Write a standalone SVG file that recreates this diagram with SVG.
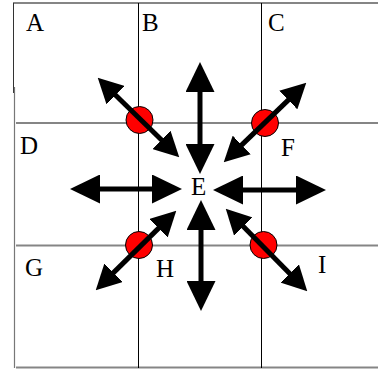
<svg xmlns="http://www.w3.org/2000/svg" width="378" height="369" viewBox="0 0 378 369">
<style>
.h{stroke:#858585;stroke-width:2;fill:none}
.v{stroke:#000;stroke-width:1;fill:none}
.lbl{font-family:"Liberation Serif","Times New Roman",serif;font-size:25px;fill:#000}
.dot{fill:#f00;stroke:#000;stroke-width:1}
.arr{stroke:#000;stroke-width:5;fill:none;marker-start:url(#ah);marker-end:url(#ah)}
.arrd{stroke:#000;stroke-width:5;fill:none;marker-start:url(#ahd);marker-end:url(#ahd)}
</style>
<defs>
<marker id="ah" markerUnits="userSpaceOnUse" viewBox="0 0 30 29" refX="1" refY="14.5" markerWidth="30" markerHeight="29" orient="auto-start-reverse">
<path d="M0,0 L30,14.5 L0,29 Z" fill="#000"/>
</marker>
<marker id="ahd" markerUnits="userSpaceOnUse" viewBox="0 0 25 26" refX="1" refY="13" markerWidth="25" markerHeight="26" orient="auto-start-reverse">
<path d="M0,0 L25,13 L0,26 Z" fill="#000"/>
</marker>
</defs>
<rect width="378" height="369" fill="#fff"/>
<g id="grid">
<line class="h" x1="13" y1="3" x2="378" y2="3"/>
<line class="h" x1="16" y1="123" x2="378" y2="123"/>
<line class="h" x1="16" y1="245.5" x2="378" y2="245.5"/>
<line class="h" x1="16" y1="367.5" x2="378" y2="367.5"/>
<line x1="13.5" y1="3" x2="13.5" y2="93" stroke="#333" stroke-width="1"/>
<line x1="14.5" y1="87" x2="14.5" y2="368" stroke="#777" stroke-width="1.2"/>
<line class="v" x1="138.5" y1="3" x2="138.5" y2="368"/>
<line class="v" x1="261.5" y1="3" x2="261.5" y2="368"/>
</g>
<g id="A"><text class="lbl" x="26" y="31">A</text></g>
<g id="B"><text class="lbl" x="142" y="31">B</text></g>
<g id="C"><text class="lbl" x="268" y="31">C</text></g>
<g id="D"><text class="lbl" x="20" y="154">D</text></g>
<g id="E"><text class="lbl" x="191" y="195">E</text></g>
<g id="F"><text class="lbl" x="281" y="156">F</text></g>
<g id="G"><text class="lbl" x="25" y="276">G</text></g>
<g id="H"><text class="lbl" x="156" y="277">H</text></g>
<g id="I"><text class="lbl" x="318" y="273">I</text></g>
<g id="dot-BD"><circle class="dot" cx="139.5" cy="120" r="13.5"/></g>
<g id="dot-BF"><circle class="dot" cx="265" cy="123" r="13.5"/></g>
<g id="dot-DH"><circle class="dot" cx="139" cy="245" r="13.5"/></g>
<g id="dot-FH"><circle class="dot" cx="263.5" cy="245" r="13.5"/></g>
<g id="connectors">
<line class="arr" x1="200" y1="91" x2="200" y2="145"/>
<line class="arr" x1="201" y1="229" x2="201" y2="282"/>
<line class="arr" x1="99" y1="189" x2="153" y2="189"/>
<line class="arr" x1="242" y1="190" x2="297" y2="190"/>
<line class="arrd" x1="114.9" y1="94.45" x2="162.1" y2="140.55"/>
<line class="arrd" x1="289" y1="99.35" x2="241" y2="145.65"/>
<line class="arrd" x1="112.8" y1="273.4" x2="159.2" y2="227.6"/>
<line class="arrd" x1="290.4" y1="274.2" x2="242.6" y2="225.8"/>
</g>
</svg>
